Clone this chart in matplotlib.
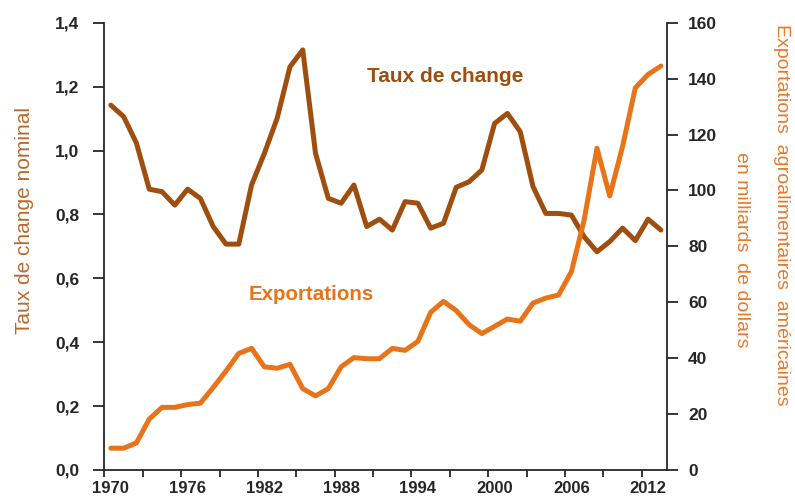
import matplotlib
matplotlib.use("Agg")
import matplotlib.pyplot as plt
from matplotlib.ticker import FixedLocator, FuncFormatter

years = list(range(1970, 2014))
taux_change = [1.142, 1.106, 1.023, 0.879, 0.871, 0.829, 0.879, 0.850, 0.762, 0.707,
               0.707, 0.892, 0.991, 1.101, 1.262, 1.315, 0.991, 0.850, 0.835, 0.892,
               0.762, 0.785, 0.751, 0.840, 0.835, 0.757, 0.772, 0.885, 0.902, 0.939,
               1.085, 1.116, 1.059, 0.887, 0.803, 0.803, 0.798, 0.730, 0.683, 0.715,
               0.757, 0.718, 0.785, 0.751]
exportations = [7.8, 7.8, 9.7, 18.2, 22.4, 22.4, 23.4, 23.9, 29.5, 35.4,
                41.7, 43.5, 36.9, 36.4, 37.8, 29.1, 26.5, 29.1, 36.9, 40.2,
                39.8, 39.8, 43.5, 42.8, 46.0, 56.4, 60.3, 57.0, 52.0, 48.8,
                51.4, 54.0, 53.2, 59.7, 61.5, 62.6, 70.9, 89.5, 115.1, 98.0,
                115.7, 136.7, 141.5, 144.5]
left_ticks = [0.0, 0.2, 0.4, 0.6, 0.8, 1.0, 1.2, 1.4]
right_ticks = [0, 20, 40, 60, 80, 100, 120, 140, 160]
year_labels = [1970, 1976, 1982, 1988, 1994, 2000, 2006, 2012]

c_brown = '#9E4E0E'
c_orange = '#E8741A'
c_axis = '#262626'
tick_font = ['Liberation Sans Narrow', 'Liberation Sans', 'DejaVu Sans']
lab_font = ['Liberation Sans', 'DejaVu Sans']

fig = plt.figure(figsize=(7.95, 5.0), dpi=100)
ax = fig.add_axes([0.1314, 0.06, 0.7080, 0.8946])
ax2 = ax.twinx()

ax.plot(years, taux_change, color=c_brown, lw=3.6, solid_capstyle='round',
        solid_joinstyle='round', zorder=3)
ax2.plot(years, exportations, color=c_orange, lw=3.6, solid_capstyle='round',
         solid_joinstyle='round', zorder=3)

ax.set_xlim(years[0] - 0.5, years[-1] + 0.5)
ax.set_ylim(left_ticks[0], left_ticks[-1])
ax2.set_ylim(right_ticks[0], right_ticks[-1])

for a in (ax, ax2):
    a.spines['top'].set_visible(False)
    for s in a.spines.values():
        s.set_color(c_axis)
        s.set_linewidth(1.3)
ax.spines['right'].set_visible(False)
ax2.spines['left'].set_visible(False)
ax2.spines['bottom'].set_visible(False)

# x ticks at category boundaries, labels centred on categories
ax.xaxis.set_major_locator(FixedLocator([years[0] - 0.5 + 3 * k for k in range(15)]))
ax.xaxis.set_major_formatter(FuncFormatter(lambda v, p: ''))
ax.xaxis.set_minor_locator(FixedLocator(year_labels))
ax.set_xticklabels([str(y) for y in year_labels], minor=True)
ax.tick_params(axis='x', which='major', direction='out', length=5, width=1.3, color=c_axis)
ax.tick_params(axis='x', which='minor', length=0, pad=8, labelsize=12, labelcolor=c_axis)
for t in ax.get_xticklabels(minor=True):
    t.set_fontfamily(tick_font)
    t.set_fontweight('bold')

ax.set_yticks(left_ticks)
ax.set_yticklabels([f"{v:.1f}".replace('.', ',') for v in left_ticks])
ax.tick_params(axis='y', direction='out', length=8, width=1.3, color=c_axis,
               pad=10, labelsize=12.5, labelcolor=c_axis)
ax2.set_yticks(right_ticks)
ax2.set_yticklabels([str(v) for v in right_ticks])
ax2.tick_params(axis='y', direction='out', length=8, width=1.3, color=c_axis,
                pad=7, labelsize=12.5, labelcolor=c_axis)
for t in ax.get_yticklabels() + ax2.get_yticklabels():
    t.set_fontfamily(tick_font)
    t.set_fontweight('bold')

fig.text(0.0314, 0.56, 'Taux de change nominal', rotation=90, ha='center', va='center',
         color='#B8692E', fontsize=15, family=lab_font)
fig.text(0.9836, 0.57, 'Exportations  agroalimentaires  américaines', rotation=-90,
         ha='center', va='center', color='#E8792A', fontsize=14, family=lab_font)
fig.text(0.9333, 0.50, 'en milliards  de dollars', rotation=-90,
         ha='center', va='center', color='#E8792A', fontsize=14, family=lab_font)

fig.text(0.560, 0.846, 'Taux de change', ha='center', va='center', color=c_brown,
         fontsize=15, fontweight='bold', family=tick_font)
fig.text(0.392, 0.41, 'Exportations', ha='center', va='center', color=c_orange,
         fontsize=14.8, fontweight='bold', family=tick_font)

fig.savefig('out.png', dpi=100)
